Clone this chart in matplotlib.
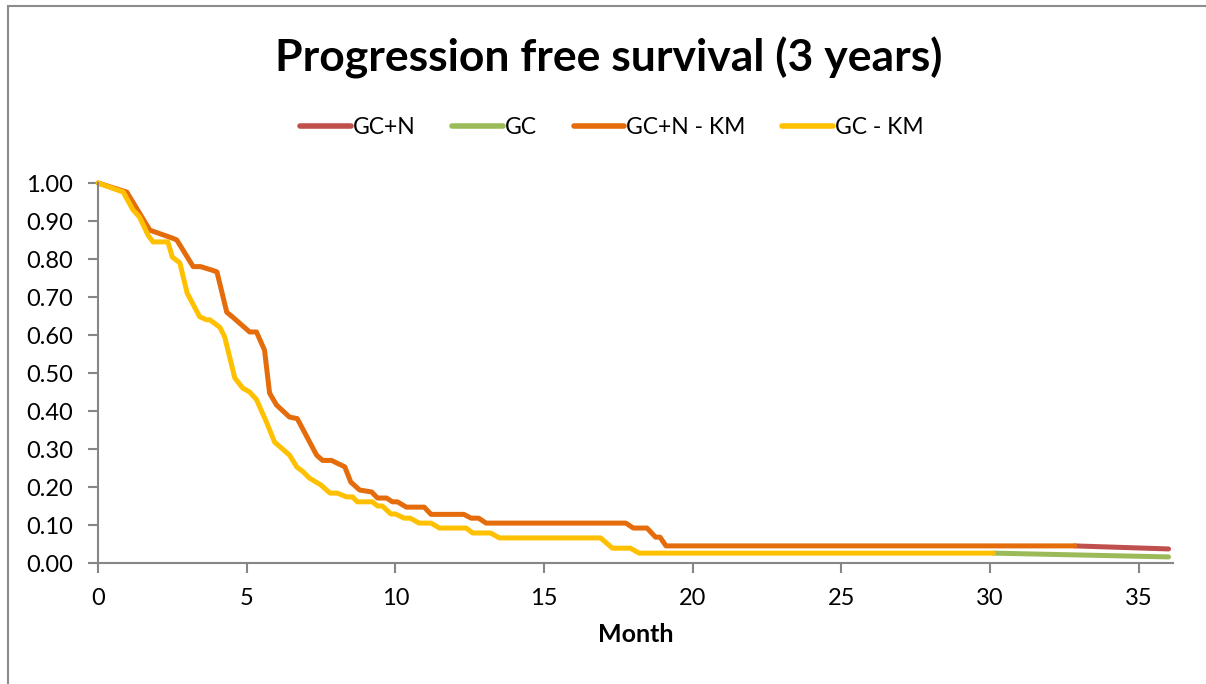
import matplotlib
matplotlib.use("Agg")
import matplotlib.pyplot as plt
from matplotlib.patches import Rectangle

# Kaplan-Meier estimates (month, progression-free proportion)
gcn_km_month = [0, 0.97, 1.74, 2.5, 2.65, 3.2, 3.45, 3.86, 4.0, 4.33, 4.53, 5.1, 5.33,
                5.6, 5.77, 6.0, 6.44, 6.7, 7.35, 7.55, 7.85, 8.3, 8.5, 8.8, 9.2, 9.4,
                9.7, 9.9, 10.07, 10.37, 10.97, 11.2, 12.3, 12.55, 12.8, 13.05, 17.75,
                18.0, 18.46, 18.75, 18.9, 19.1, 32.85]
gcn_km_value = [1.0, 0.976, 0.876, 0.855, 0.85, 0.78, 0.78, 0.77, 0.766, 0.66, 0.647,
                0.608, 0.608, 0.56, 0.447, 0.416, 0.384, 0.38, 0.284, 0.27, 0.27,
                0.253, 0.213, 0.192, 0.187, 0.171, 0.171, 0.161, 0.161, 0.147, 0.147,
                0.128, 0.128, 0.118, 0.118, 0.105, 0.105, 0.092, 0.092, 0.068, 0.068,
                0.045, 0.045]

gc_km_month = [0, 0.85, 1.17, 1.4, 1.68, 1.85, 2.35, 2.5, 2.75, 3.0, 3.42, 3.65, 3.76,
               4.1, 4.26, 4.6, 4.87, 5.1, 5.33, 5.67, 5.94, 6.44, 6.68, 6.9, 7.1, 7.5,
               7.8, 8.05, 8.35, 8.56, 8.72, 9.23, 9.4, 9.56, 9.85, 10.0, 10.3, 10.5,
               10.8, 11.2, 11.48, 12.38, 12.6, 13.2, 13.5, 16.9, 17.3, 17.9, 18.2, 30.1]
gc_km_value = [1.0, 0.976, 0.93, 0.91, 0.863, 0.845, 0.845, 0.805, 0.79, 0.71, 0.648,
               0.64, 0.64, 0.62, 0.595, 0.487, 0.46, 0.45, 0.43, 0.37, 0.318, 0.284,
               0.253, 0.24, 0.224, 0.205, 0.184, 0.184, 0.174, 0.174, 0.161, 0.161,
               0.15, 0.15, 0.129, 0.129, 0.118, 0.118, 0.105, 0.105, 0.092, 0.092,
               0.079, 0.079, 0.066, 0.066, 0.039, 0.039, 0.026, 0.026]

# Modelled tails beyond the observed follow-up
gcn_month = [32.85, 36]
gcn_value = [0.045, 0.037]
gc_month = [30.1, 36]
gc_value = [0.026, 0.016]

x_ticks = [0, 5, 10, 15, 20, 25, 30, 35]
y_ticks = [0.0, 0.1, 0.2, 0.3, 0.4, 0.5, 0.6, 0.7, 0.8, 0.9, 1.0]

FONT = ["Lato", "DejaVu Sans"]
plt.rcParams["font.family"] = FONT

W, H = 1206, 684
fig = plt.figure(figsize=(W / 100, H / 100), dpi=100)
fig.patch.set_facecolor("white")

# chart area border (left and top edges)
fig.patches.append(Rectangle((8 / W, -0.2), 1.2, 1.2 - 6 / H,
                             transform=fig.transFigure, fill=False,
                             edgecolor="#8c8c8c", linewidth=1.5))

ax = fig.add_axes([98 / W, 1 - 563 / H, (1173 - 98) / W, (563 - 183) / H])
ax.set_xlim(0, 36.15)
ax.set_ylim(0, 1)

lw = 3.6
series = [
    (gcn_month, gcn_value, "#C0504D", "GC+N"),
    (gc_month, gc_value, "#9BBB59", "GC"),
    (gcn_km_month, gcn_km_value, "#E46C0A", "GC+N - KM"),
    (gc_km_month, gc_km_value, "#FFC000", "GC - KM"),
]
for xs, ys, col, lab in series:
    ax.plot(xs, ys, color=col, lw=lw, label=lab, solid_capstyle="round",
            solid_joinstyle="round", clip_on=False)

ax.set_xticks(x_ticks)
ax.set_yticks(y_ticks)
ax.set_yticklabels([f"{v:.2f}" for v in y_ticks])
for s in ["top", "right"]:
    ax.spines[s].set_visible(False)
for s in ["left", "bottom"]:
    ax.spines[s].set_color("#868686")
    ax.spines[s].set_linewidth(1.5)
ax.tick_params(axis="both", colors="#868686", width=1.5, length=7,
               labelcolor="black", labelsize=17)
ax.tick_params(axis="y", pad=11)
ax.tick_params(axis="x", pad=11)

ax.set_xlabel("Month", fontsize=18, fontweight="bold", labelpad=10)

fig.text(609 / W, 1 - 58 / H, "Progression free survival (3 years)",
         ha="center", va="center", fontsize=32, fontweight="bold")

leg = fig.legend(loc="center", bbox_to_anchor=(612 / W, 1 - 128 / H), ncol=4,
                 frameon=False, fontsize=16.5, handlelength=2.2, handletextpad=0.1,
                 columnspacing=1.6)
for ln in leg.get_lines():
    ln.set_linewidth(4)
    ln.set_solid_capstyle("round")

fig.savefig("out.png", dpi=100, facecolor="white")
